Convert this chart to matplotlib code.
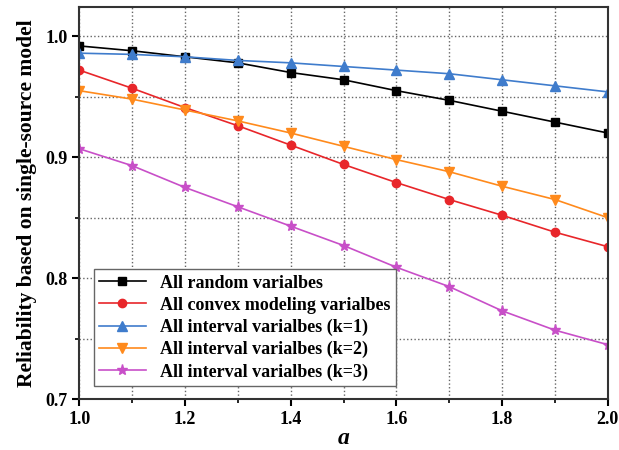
import numpy as np
import matplotlib
matplotlib.use('Agg')
import matplotlib.pyplot as plt
from matplotlib.ticker import MultipleLocator

plt.rcParams['font.family'] = 'Liberation Serif'
plt.rcParams['font.weight'] = 'bold'
plt.rcParams['axes.labelweight'] = 'bold'

# data
a = [1.0, 1.1, 1.2, 1.3, 1.4, 1.5, 1.6, 1.7, 1.8, 1.9, 2.0]
random_vars = [0.992, 0.988, 0.983, 0.978, 0.970, 0.964, 0.955, 0.947, 0.938, 0.929, 0.920]
convex_vars = [0.972, 0.957, 0.941, 0.926, 0.910, 0.894, 0.879, 0.865, 0.852, 0.838, 0.826]
interval_k1 = [0.986, 0.985, 0.983, 0.980, 0.978, 0.975, 0.972, 0.969, 0.964, 0.959, 0.954]
interval_k2 = [0.955, 0.948, 0.939, 0.930, 0.920, 0.909, 0.898, 0.888, 0.876, 0.865, 0.850]
interval_k3 = [0.907, 0.893, 0.875, 0.859, 0.843, 0.827, 0.809, 0.793, 0.773, 0.757, 0.745]

labels = ['All random varialbes',
          'All convex modeling varialbes',
          'All interval varialbes (k=1)',
          'All interval varialbes (k=2)',
          'All interval varialbes (k=3)']

fig = plt.figure(figsize=(6.19, 4.5), dpi=100)
ax = fig.add_axes([0.128, 0.113, 0.854, 0.871])

ax.plot(a, random_vars, color='black', marker='s', ms=5.5, lw=1.2, label=labels[0])
ax.plot(a, convex_vars, color='#e8262a', marker='o', ms=6, lw=1.2, label=labels[1])
ax.plot(a, interval_k1, color='#3f7ccc', marker='^', ms=7, lw=1.2, label=labels[2])
ax.plot(a, interval_k2, color='#ff8a1c', marker='v', ms=7, lw=1.2, label=labels[3])
ax.plot(a, interval_k3, color='#c84fc8', marker='*', ms=8, lw=1.2, label=labels[4])

ax.set_xlim(1.0, 2.0)
ax.set_ylim(0.7, 1.024)
ax.xaxis.set_major_locator(MultipleLocator(0.2))
ax.xaxis.set_minor_locator(MultipleLocator(0.1))
ax.yaxis.set_major_locator(MultipleLocator(0.1))
ax.yaxis.set_minor_locator(MultipleLocator(0.05))
ax.xaxis.set_major_formatter(plt.FormatStrFormatter('%.1f'))
ax.yaxis.set_major_formatter(plt.FormatStrFormatter('%.1f'))

ax.grid(which='both', linestyle=':', color='#666666', lw=1.0)
ax.tick_params(which='major', direction='out', length=5, width=1.5, labelsize=13)
ax.tick_params(which='minor', direction='out', length=3, width=1.2)
for s in ax.spines.values():
    s.set_linewidth(1.5)
    s.set_color('#333333')

ax.set_xlabel('a', fontsize=17, style='italic', labelpad=0)
ax.set_ylabel('Reliability based on single-source model', fontsize=15.5, labelpad=6)

leg = ax.legend(loc='lower left', bbox_to_anchor=(0.01, 0.01), fontsize=13,
                fancybox=False, edgecolor='#666666', framealpha=1,
                handlelength=2.6, borderpad=0.3, labelspacing=0.28)

fig.savefig('out.png', dpi=100)
